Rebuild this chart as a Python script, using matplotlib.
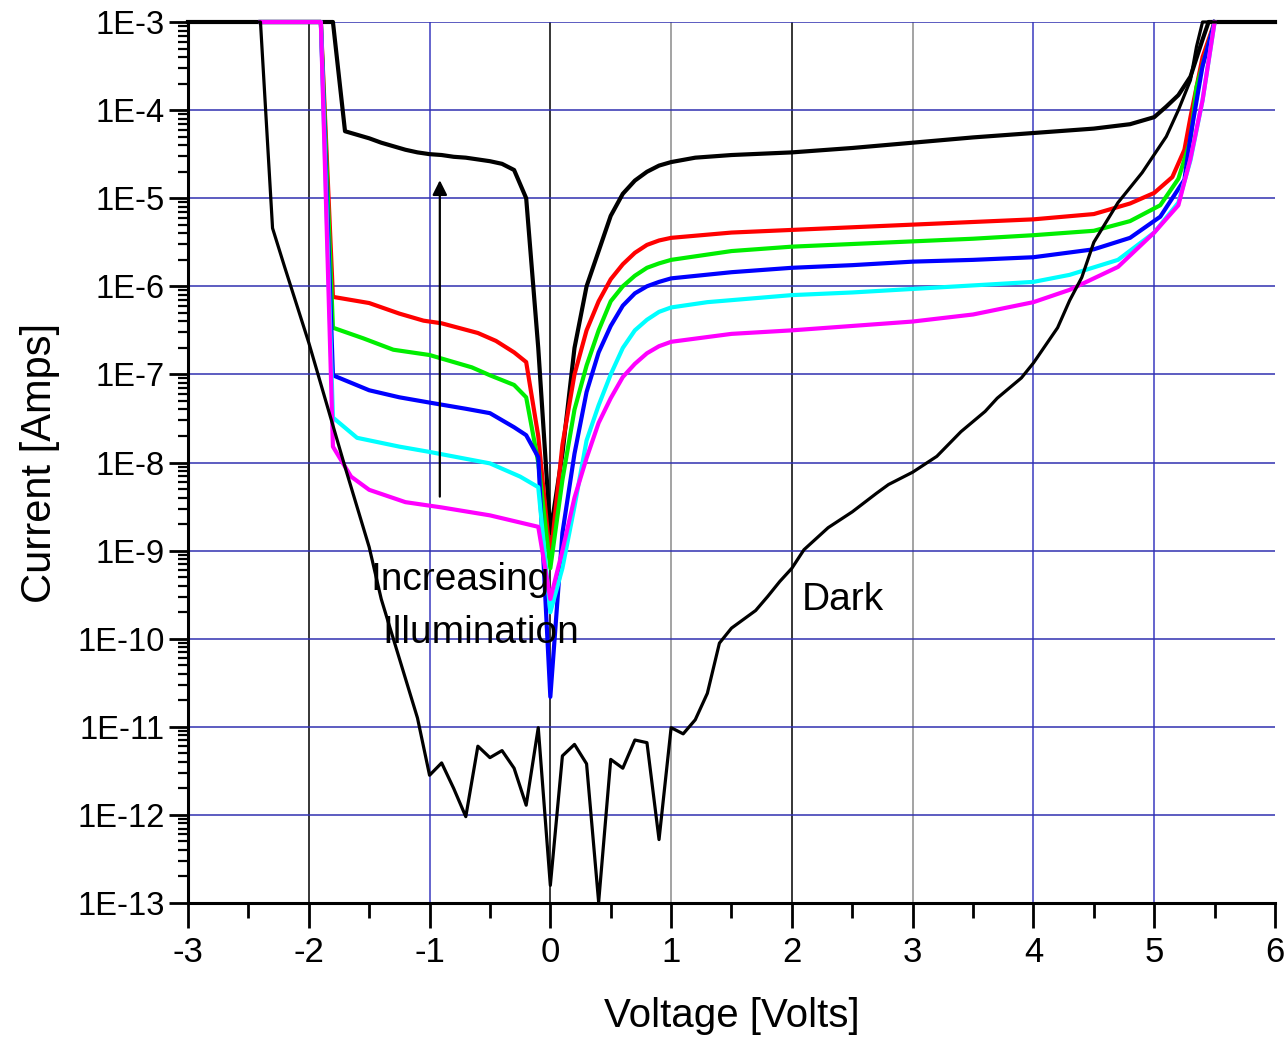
from __future__ import annotations

import matplotlib as mpl
import matplotlib.pyplot as plt
import numpy as np
from matplotlib import font_manager
from matplotlib.ticker import FixedLocator, FuncFormatter, LogLocator, NullFormatter

# --- data: voltage [V] and log10(current [A]) ---

dark_v = [-3.0, -2.4, -2.3, -2.2, -2.0, -1.7, -1.5, -1.4, -1.3, -1.2, -1.1,
          -1.0, -0.9, -0.8, -0.7, -0.6, -0.5, -0.4, -0.3, -0.2, -0.1, 0.0,
          0.1, 0.2, 0.3, 0.4, 0.5, 0.6, 0.7, 0.8, 0.9, 1.0, 1.1, 1.2, 1.3,
          1.4, 1.5, 1.6, 1.7, 1.8, 1.9, 2.0, 2.1, 2.3, 2.5, 2.7, 2.8, 3.0,
          3.2, 3.4, 3.6, 3.7, 3.9, 4.0, 4.2, 4.3, 4.4, 4.5, 4.7, 4.9, 5.1,
          5.2, 5.3, 5.35, 5.4, 6.0]
dark_log = [-3.0, -3.0, -5.34, -5.78, -6.64, -8.05, -8.96, -9.55, -10.0,
            -10.45, -10.9, -11.55, -11.41, -11.7, -12.02, -11.22, -11.35,
            -11.27, -11.47, -11.89, -11.01, -12.8, -11.33, -11.2, -11.42,
            -12.99, -11.37, -11.47, -11.15, -11.18, -12.28, -11.01, -11.08,
            -10.92, -10.62, -10.05, -9.88, -9.78, -9.68, -9.52, -9.35, -9.2,
            -8.99, -8.74, -8.56, -8.35, -8.25, -8.11, -7.93, -7.65, -7.42,
            -7.27, -7.04, -6.87, -6.47, -6.16, -5.9, -5.5, -5.05, -4.71,
            -4.3, -4.0, -3.66, -3.28, -3.0, -3.0]

bright_v = [-3.0, -1.8, -1.7, -1.6, -1.5, -1.4, -1.3, -1.2, -1.1, -1.0, -0.9,
            -0.8, -0.7, -0.6, -0.5, -0.4, -0.3, -0.2, -0.1, 0.0, 0.1, 0.2,
            0.3, 0.4, 0.5, 0.6, 0.7, 0.8, 0.9, 1.0, 1.2, 1.5, 2.0, 2.5, 3.0,
            3.5, 4.0, 4.5, 4.8, 4.9, 5.0, 5.1, 5.2, 5.3, 5.4, 5.45, 6.0]
bright_log = [-3.0, -3.0, -4.24, -4.28, -4.32, -4.37, -4.41, -4.45, -4.48,
              -4.5, -4.51, -4.53, -4.54, -4.56, -4.58, -4.61, -4.68, -5.0,
              -6.7, -8.8, -7.9, -6.7, -6.0, -5.6, -5.2, -4.95, -4.8, -4.7,
              -4.63, -4.59, -4.54, -4.51, -4.48, -4.43, -4.37, -4.31, -4.26,
              -4.21, -4.16, -4.12, -4.08, -3.96, -3.83, -3.62, -3.2, -3.0, -3.0]

red_v = [-2.4, -1.9, -1.8, -1.5, -1.25, -1.05, -0.9, -0.6, -0.45, -0.3, -0.2,
         -0.1, 0.0, 0.1, 0.2, 0.3, 0.4, 0.5, 0.6, 0.7, 0.8, 0.9, 1.0, 1.5,
         2.0, 2.5, 3.0, 3.5, 4.0, 4.5, 4.8, 5.0, 5.15, 5.25, 5.3, 5.4, 5.5]
red_log = [-3.0, -3.0, -6.12, -6.19, -6.31, -6.39, -6.42, -6.53, -6.62, -6.75,
           -6.86, -7.7, -9.1, -7.8, -7.0, -6.5, -6.17, -5.92, -5.75, -5.62,
           -5.53, -5.48, -5.45, -5.39, -5.36, -5.33, -5.3, -5.27, -5.24,
           -5.18, -5.06, -4.94, -4.76, -4.45, -4.08, -3.4, -3.0]

green_v = [-2.4, -1.9, -1.8, -1.55, -1.3, -1.0, -0.65, -0.5, -0.3, -0.2, -0.1,
           0.0, 0.1, 0.2, 0.3, 0.4, 0.5, 0.6, 0.7, 0.8, 0.9, 1.0, 1.5, 2.0,
           2.5, 3.0, 3.5, 4.0, 4.5, 4.8, 5.05, 5.2, 5.3, 5.35, 5.5]
green_log = [-3.0, -3.0, -6.47, -6.59, -6.72, -6.78, -6.92, -7.01, -7.12,
             -7.26, -8.0, -9.2, -8.2, -7.4, -6.9, -6.5, -6.17, -6.0, -5.88,
             -5.79, -5.74, -5.7, -5.6, -5.55, -5.52, -5.49, -5.46, -5.42,
             -5.37, -5.26, -5.08, -4.78, -4.34, -3.74, -3.0]

blue_v = [-2.4, -1.9, -1.8, -1.5, -1.25, -1.0, -0.7, -0.5, -0.3, -0.2, -0.1,
          0.0, 0.1, 0.2, 0.3, 0.4, 0.5, 0.6, 0.7, 0.8, 0.9, 1.0, 1.5, 2.0,
          2.5, 3.0, 3.5, 4.0, 4.5, 4.8, 5.05, 5.25, 5.3, 5.4, 5.5]
blue_log = [-3.0, -3.0, -7.01, -7.18, -7.26, -7.32, -7.39, -7.44, -7.6, -7.69,
            -7.94, -10.66, -8.8, -7.9, -7.2, -6.75, -6.45, -6.22, -6.08, -6.0,
            -5.95, -5.91, -5.84, -5.79, -5.76, -5.72, -5.7, -5.67, -5.58,
            -5.45, -5.21, -4.79, -4.3, -3.5, -3.0]

cyan_v = [-2.4, -1.9, -1.8, -1.6, -1.25, -1.0, -0.5, -0.25, -0.1, 0.0, 0.1,
          0.2, 0.3, 0.4, 0.5, 0.6, 0.7, 0.8, 0.9, 1.0, 1.3, 2.0, 2.5, 3.0,
          3.5, 4.0, 4.3, 4.7, 5.0, 5.2, 5.3, 5.4, 5.5]
cyan_log = [-3.0, -3.0, -7.49, -7.72, -7.82, -7.88, -8.01, -8.16, -8.28, -9.7,
            -9.2, -8.5, -7.75, -7.35, -7.0, -6.7, -6.5, -6.38, -6.29, -6.24,
            -6.18, -6.1, -6.07, -6.03, -5.99, -5.95, -5.87, -5.7, -5.39,
            -5.05, -4.57, -3.89, -3.0]

magenta_v = [-2.4, -1.9, -1.8, -1.65, -1.5, -1.2, -0.9, -0.5, -0.1, 0.0, 0.1,
             0.2, 0.3, 0.4, 0.5, 0.6, 0.7, 0.8, 0.9, 1.0, 1.5, 2.0, 2.5, 3.0,
             3.5, 4.0, 4.3, 4.7, 5.0, 5.2, 5.3, 5.4, 5.5]
magenta_log = [-3.0, -3.0, -7.82, -8.16, -8.31, -8.45, -8.51, -8.6, -8.73,
               -9.55, -9.0, -8.4, -7.95, -7.55, -7.27, -7.03, -6.88, -6.76,
               -6.68, -6.63, -6.54, -6.5, -6.45, -6.4, -6.32, -6.18, -6.04,
               -5.78, -5.39, -5.08, -4.55, -3.89, -3.0]

x_ticks = [-3, -2, -1, 0, 1, 2, 3, 4, 5, 6]
# the original grid mixes black, grey and blue verticals
x_grid_colors = [None, "#000000", "#3a3ac0", "#000000", "#8a8a8a",
                 "#000000", "#8a8a8a", "#3a3ac0", "#3a3ac0", None]

GRID_BLUE = "#3030b0"


def narrow_family() -> list[str]:
    """Condensed face for the x tick labels if it is installed."""
    names = {f.name for f in font_manager.fontManager.ttflist}
    if "Liberation Sans Narrow" in names:
        return ["Liberation Sans Narrow", "Liberation Sans"]
    return ["Liberation Sans"]


def main() -> None:
    mpl.rcParams.update(
        {
            "font.family": ["Liberation Sans", "DejaVu Sans"],
            "axes.linewidth": 2.2,
            "xtick.major.width": 2.0,
            "ytick.major.width": 2.0,
            "xtick.minor.width": 2.0,
            "ytick.minor.width": 1.6,
        }
    )

    fig = plt.figure(figsize=(12.88, 10.44), dpi=100)
    ax = fig.add_axes([188 / 1288, 141 / 1044, 1087 / 1288, 881 / 1044])

    ax.set_yscale("log")
    ax.set_xlim(-3, 6)
    ax.set_ylim(1e-13, 1e-3)

    ax.plot(bright_v, 10 ** np.array(bright_log), color="black", lw=3.0,
            zorder=3, clip_on=False)

    series = [
        (red_v, red_log, "#ff0000"),
        (green_v, green_log, "#00ee00"),
        (blue_v, blue_log, "#0000ff"),
        (cyan_v, cyan_log, "#00ffff"),
        (magenta_v, magenta_log, "#ff00ff"),
    ]
    for v, lg, c in series:
        ax.plot(v, 10 ** np.array(lg), color=c, lw=3.0, zorder=4, clip_on=False)

    ax.plot(dark_v, 10 ** np.array(dark_log), color="black", lw=2.3,
            zorder=5, clip_on=False)

    # axes, ticks
    ax.spines["top"].set_visible(False)
    ax.spines["right"].set_visible(False)

    ax.xaxis.set_major_locator(FixedLocator(x_ticks))
    ax.xaxis.set_minor_locator(FixedLocator(np.arange(-2.5, 6, 1.0)))
    ax.yaxis.set_major_locator(LogLocator(base=10, numticks=20))
    ax.yaxis.set_minor_locator(LogLocator(base=10, subs=np.arange(2, 10),
                                          numticks=200))
    ax.yaxis.set_minor_formatter(NullFormatter())
    ax.yaxis.set_major_formatter(
        FuncFormatter(lambda v, _: f"1E{int(round(np.log10(v)))}")
    )
    ax.xaxis.set_major_formatter(FuncFormatter(lambda v, _: f"{int(v)}"))

    ax.tick_params(axis="x", which="major", length=18, pad=6, labelsize=25)
    ax.tick_params(axis="x", which="minor", length=11)
    ax.tick_params(axis="y", which="major", length=14, pad=3, labelsize=23.5)
    ax.tick_params(axis="y", which="minor", length=7)
    for lab in ax.get_xticklabels():
        lab.set_family(narrow_family())

    ax.grid(True, which="major", axis="y", color=GRID_BLUE, lw=1.1, zorder=1)
    ax.grid(True, which="major", axis="x", lw=1.1, zorder=1)
    for line, col in zip(ax.get_xgridlines(), x_grid_colors):
        if col is None:
            line.set_visible(False)
        else:
            line.set_color(col)
    ax.set_axisbelow(True)

    ax.set_xlabel("Voltage [Volts]", fontsize=29, labelpad=20)
    ax.set_ylabel("Current [Amps]", fontsize=30, labelpad=12)

    # annotations
    ax.annotate(
        "",
        xy=(-0.915, 1.6e-5),
        xytext=(-0.915, 4.1e-9),
        arrowprops=dict(arrowstyle="-|>", color="black", lw=1.6,
                        mutation_scale=22, shrinkA=0, shrinkB=0),
        zorder=6,
    )
    ax.text(-1.49, 10 ** -9.33, "Increasing", fontsize=28, va="center",
            ha="left", zorder=7)
    ax.text(-1.39, 10 ** -9.94, "Illumination", fontsize=28, va="center",
            ha="left", zorder=7)
    ax.text(2.08, 10 ** -9.56, "Dark", fontsize=28, va="center", ha="left",
            zorder=7)

    fig.savefig("out.png", dpi=100, facecolor="white")
    plt.close(fig)


if __name__ == "__main__":
    main()
